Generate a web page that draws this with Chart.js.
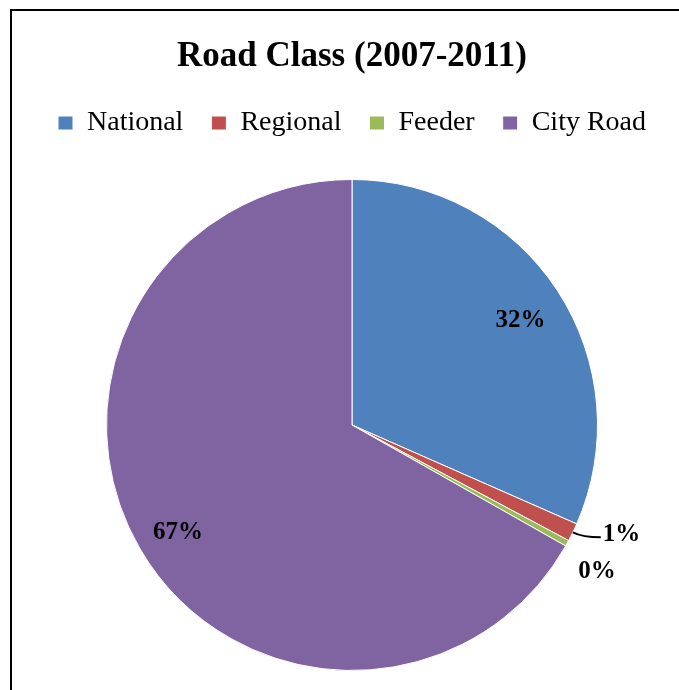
<!DOCTYPE html>
<html>
<head>
<meta charset="utf-8">
<script src="https://cdn.jsdelivr.net/npm/chart.js@4/dist/chart.umd.min.js"></script>
<style>
    html, body { margin: 0; padding: 0; background: #fff; }
    #wrap { width: 679px; height: 690px; }
</style>
</head>
<body>
<div id="wrap"><canvas id="myChart" width="679" height="690"></canvas></div>
<script>
// road class shares, 2007-2011
let categories = ['National', 'Regional', 'Feeder', 'City Road'];
let shares = [31.6, 1.2, 0.4, 66.8];
let colors = ['#4F81BD', '#C0504D', '#9BBB59', '#8064A2'];

const serif = '"Liberation Serif", "Times New Roman", serif';

// frame round the whole picture (only top and left edges fall inside the canvas)
const frame = {
    id: 'frame',
    beforeDraw(chart) {
        let ctx = chart.ctx;
        ctx.save();
        ctx.fillStyle = '#fff';
        ctx.fillRect(0, 0, chart.width, chart.height);
        ctx.strokeStyle = '#000';
        ctx.lineWidth = 2;
        ctx.strokeRect(11, 10, chart.width + 20, chart.height + 20);
        ctx.restore();
    }
};

// extra gap between legend and pie
const legendGap = {
    id: 'legendGap',
    beforeInit(chart) {
        let fit = chart.legend.fit;
        chart.legend.fit = function () {
            fit.call(this);
            this.height += 32;
        };
    }
};

// percentage labels, big slices inside, thin ones outside
const pctLabels = {
    id: 'pctLabels',
    afterDatasetsDraw(chart) {
        let ctx = chart.ctx;
        let data = chart.data.datasets[0].data;
        let total = data.reduce((a, v) => a + v, 0);
        let arcs = chart.getDatasetMeta(0).data;
        let prevY = null;
        ctx.save();
        ctx.font = 'bold 25px ' + serif;
        ctx.fillStyle = '#000';
        ctx.strokeStyle = '#000';
        ctx.textBaseline = 'middle';
        arcs.forEach((arc, i) => {
            let share = data[i] / total;
            let text = Math.round(share * 100) + '%';
            let mid = (arc.startAngle + arc.endAngle) / 2;
            let r = arc.outerRadius;
            if (share >= 0.03) {
                ctx.textAlign = 'center';
                ctx.fillText(text, arc.x + Math.cos(mid) * r * 0.82, arc.y + Math.sin(mid) * r * 0.82 + 6);
                return;
            }
            let px = arc.x + Math.cos(mid) * r;
            let py = arc.y + Math.sin(mid) * r;
            ctx.textAlign = 'left';
            if (prevY === null) {
                ctx.lineWidth = 2;
                ctx.beginPath();
                ctx.moveTo(px, py);
                ctx.quadraticCurveTo(px + 10, py + 5, px + 28, py + 5);
                ctx.stroke();
                prevY = py + 2;
                ctx.fillText(text, px + 30, prevY);
            } else {
                prevY = prevY + 37;
                ctx.fillText(text, px + 11, prevY);
            }
        });
        ctx.restore();
    }
};

let chartElem = document.getElementById('myChart').getContext('2d');

let chart = new Chart(chartElem, {
    type: 'pie',
    data: {
        labels: categories,
        datasets: [
            {
                data: shares,
                backgroundColor: colors,
                borderColor: '#fff',
                borderWidth: 1,
                hoverOffset: 0
            }
        ]
    },
    options: {
        responsive: false,
        animation: false,
        layout: {
            padding: { top: 0, left: 25, right: 0, bottom: 19 }
        },
        plugins: {
            title: {
                display: true,
                text: 'Road Class (2007-2011)',
                color: '#000',
                font: { family: serif, size: 35, weight: 'bold' },
                padding: { top: 36, bottom: 3 }
            },
            legend: {
                position: 'top',
                labels: {
                    color: '#000',
                    font: { family: serif, size: 28 },
                    boxWidth: 15,
                    boxHeight: 14,
                    padding: 28
                }
            },
            tooltip: { enabled: false }
        }
    },
    plugins: [frame, legendGap, pctLabels]
});
</script>
</body>
</html>
